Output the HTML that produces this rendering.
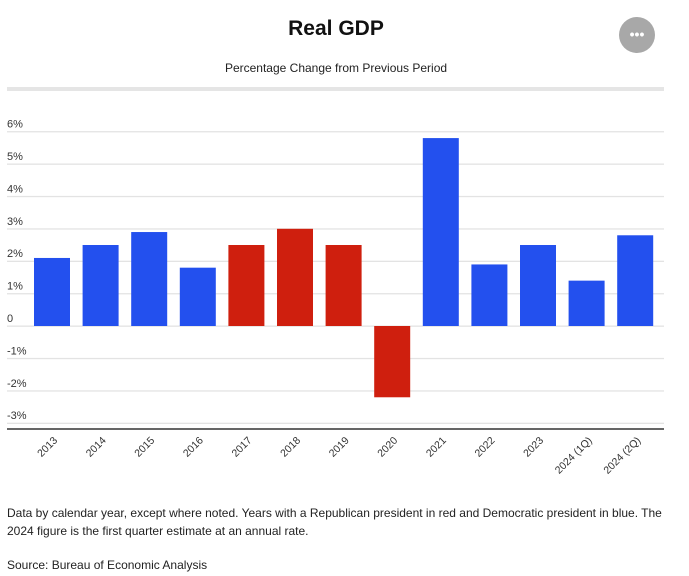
<!DOCTYPE html>
<html><head><meta charset="utf-8"><style>
body{margin:0;width:689px;height:576px;background:#fff;font-family:"Liberation Sans",Arial,sans-serif;position:relative;overflow:hidden}
.t{position:absolute;white-space:nowrap}
</style></head><body>
<div class="t" style="left:0;width:672px;text-align:center;top:17px;font-size:21px;font-weight:bold;color:#111">Real GDP</div>
<div style="position:absolute;left:619px;top:17px;width:36px;height:36px;border-radius:50%;background:#a8a8a8;color:#fff;text-align:center;line-height:34px;font-size:14px;font-weight:bold">•••</div>
<div class="t" style="left:0;width:672px;text-align:center;top:61px;font-size:12px;color:#222">Percentage Change from Previous Period</div>
<svg id="c" width="689" height="500" style="position:absolute;left:0;top:0"></svg>
<div class="t" style="left:7px;top:504px;font-size:12px;color:#222;line-height:18px;white-space:normal;width:660px">Data by calendar year, except where noted. Years with a Republican president in red and Democratic president in blue. The 2024 figure is the first quarter estimate at an annual rate.</div>
<div class="t" style="left:7px;top:558px;font-size:12px;color:#222">Source: Bureau of Economic Analysis</div>
<script>
const categories=["2013","2014","2015","2016","2017","2018","2019","2020","2021","2022","2023","2024 (1Q)","2024 (2Q)"];
const values=[2.1,2.5,2.9,1.8,2.5,3.0,2.5,-2.2,5.8,1.9,2.5,1.4,2.8];
const party=["D","D","D","D","R","R","R","R","D","D","D","D","D"];
const ticks=[6,5,4,3,2,1,0,-1,-2,-3];
const tickLabels=["6%","5%","4%","3%","2%","1%","0","-1%","-2%","-3%"];
const svg=document.getElementById('c');const NS="http://www.w3.org/2000/svg";
const y0=326,step=32.4,x0=7,x1=664,firstBar=34,pitch=48.6,bw=36;
const y=v=>y0-v*step;const x=i=>firstBar+i*pitch;
function mk(t,a){const e=document.createElementNS(NS,t);for(const k in a)e.setAttribute(k,a[k]);svg.appendChild(e);return e;}
let g=mk('rect',{x:x0,y:87,width:x1-x0,height:4,fill:'#e5e5e5'});


ticks.forEach((t,i)=>{
 const l=mk('rect',{x:x0,y:y(t)-0.5,width:x1-x0,height:1.3,fill:'#e3e3e3'});
 
 
 const tx=mk('text',{x:x0,y:y(t)-4,'font-size':11,fill:'#333','font-family':'Liberation Sans, sans-serif'});tx.textContent=tickLabels[i];
 
 
});
const ax=mk('rect',{x:x0,y:428,width:x1-x0,height:2,fill:'#666'});


values.forEach((v,i)=>{
 const top=Math.min(y(v),y0),h=Math.abs(y(v)-y0);
 const b=mk('rect',{x:x(i),y:top,width:bw,height:h,fill:party[i]=="R"?'#cf1f0e':'#2350ee'});
 
 
 const cx=x(i)+bw/2+6;
 const tx=mk('text',{x:cx,y:441,'font-size':10.5,fill:'#333','text-anchor':'end','font-family':'Liberation Sans, sans-serif',transform:`rotate(-45 ${cx} 441)`});
 tx.textContent=categories[i];
 
 
});
</script>
</body></html>
